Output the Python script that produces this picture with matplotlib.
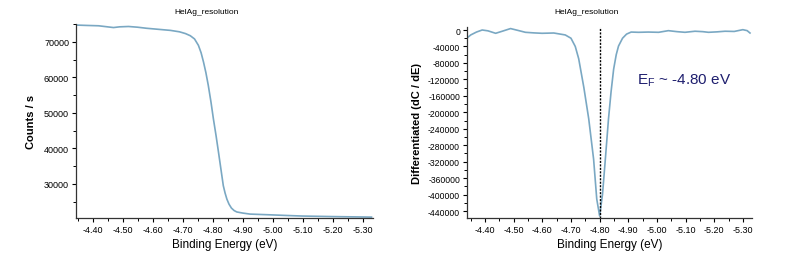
import matplotlib.pyplot as plt
from matplotlib.ticker import MultipleLocator, FormatStrFormatter

plt.rcParams['font.family'] = ['Liberation Sans', 'DejaVu Sans']
plt.rcParams['axes.unicode_minus'] = False

# left panel: counts vs binding energy
energy_counts = [-4.345, -4.38, -4.42, -4.45, -4.47, -4.49, -4.52, -4.55, -4.58,
                 -4.62, -4.66, -4.69, -4.71, -4.726, -4.74, -4.753, -4.762, -4.77,
                 -4.778, -4.786, -4.795, -4.803, -4.812, -4.82, -4.828, -4.836,
                 -4.842, -4.848, -4.855, -4.863, -4.872, -4.881, -4.90, -4.925,
                 -4.99, -5.05, -5.10, -5.20, -5.33]
counts = [74700, 74600, 74500, 74200, 74000, 74200, 74300, 74100, 73800,
          73500, 73200, 72800, 72300, 71700, 70800, 69000, 66900, 64300,
          61300, 57700, 53000, 48300, 43500, 38900, 34200, 29500,
          27400, 25700, 24300, 23200, 22500, 22100, 21800, 21500,
          21300, 21100, 20950, 20800, 20650]

# right panel: derivative dC/dE
energy_deriv = [-4.337, -4.35, -4.37, -4.39, -4.41, -4.437, -4.46, -4.489, -4.515,
                -4.541, -4.57, -4.599, -4.64, -4.68, -4.70, -4.715, -4.727, -4.745,
                -4.762, -4.779, -4.79, -4.80, -4.81, -4.82, -4.831, -4.84, -4.849,
                -4.858, -4.866, -4.88, -4.894, -4.91, -4.936, -4.97, -5.006, -5.04,
                -5.07, -5.098, -5.133, -5.16, -5.18, -5.21, -5.238, -5.27, -5.30,
                -5.315, -5.325]
deriv = [-19500, -12000, -5000, 0, -2000, -8000, -3000, 3500, -1000,
         -5600, -7000, -8000, -7300, -12000, -20000, -40000, -70000, -140000,
         -216000, -314000, -411000, -452000, -400000, -314000, -216000, -150000, -95000,
         -60000, -39000, -20000, -10000, -5000, -5600, -5000, -5600, -1600,
         -4000, -5600, -3000, -4000, -5600, -4500, -3000, -3500, 800,
         -1500, -7300]

fermi_edge = -4.80
line_color = '#7aa8c3'

fig = plt.figure(figsize=(8.04, 2.55), dpi=100)
ax1 = fig.add_axes([76 / 804, 1 - 219 / 255, 297 / 804, 194 / 255])
ax2 = fig.add_axes([467 / 804, 1 - 219 / 255, 285 / 804, 191 / 255])

ax1.plot(energy_counts, counts, color=line_color, lw=1.2)
ax1.set_xlim(-4.345, -5.335)
ax1.set_ylim(20400, 75000)
ax1.yaxis.set_major_locator(MultipleLocator(10000))
ax1.yaxis.set_minor_locator(MultipleLocator(5000))
ax1.set_ylabel('Counts / s', fontsize=8, fontweight='bold', labelpad=6)

ax2.plot(energy_deriv, deriv, color=line_color, lw=1.2)
ax2.axvline(fermi_edge, color='black', ls=(0, (1.5, 1)), lw=1)
ax2.set_xlim(-4.337, -5.332)
ax2.set_ylim(-457000, 7300)
ax2.yaxis.set_major_locator(MultipleLocator(40000))
ax2.yaxis.set_minor_locator(MultipleLocator(20000))
ax2.set_ylabel('Differentiated (dC / dE)', fontsize=8, fontweight='bold', labelpad=4)
fig.text(637 / 804, 1 - 81 / 255, r'E$_\mathregular{F}$ ~ -4.80 eV', fontsize=11,
         color='#1e1e6e', va='center', ha='left')

for ax in (ax1, ax2):
    for side in ('top', 'right'):
        ax.spines[side].set_visible(False)
    for side in ('left', 'bottom'):
        ax.spines[side].set_color('#333333')
        ax.spines[side].set_linewidth(0.9)
    ax.xaxis.set_major_locator(MultipleLocator(0.1))
    ax.xaxis.set_minor_locator(MultipleLocator(0.05))
    ax.xaxis.set_major_formatter(FormatStrFormatter('%.2f'))
    ax.tick_params(which='major', length=3, width=0.8, labelsize=6.5, pad=2)
    ax.tick_params(which='minor', length=2, width=0.7)
    ax.set_xlabel('Binding Energy (eV)', fontsize=8.5, labelpad=3)

ax2.tick_params(axis='y', labelsize=6.2)

# panel titles sit a bit left of the axes centre
fig.text(207 / 804, 1 - 13 / 255, 'HelAg_resolution', fontsize=6, ha='center', va='center')
fig.text(587 / 804, 1 - 13 / 255, 'HelAg_resolution', fontsize=6, ha='center', va='center')

fig.savefig('out.png', dpi=100)
